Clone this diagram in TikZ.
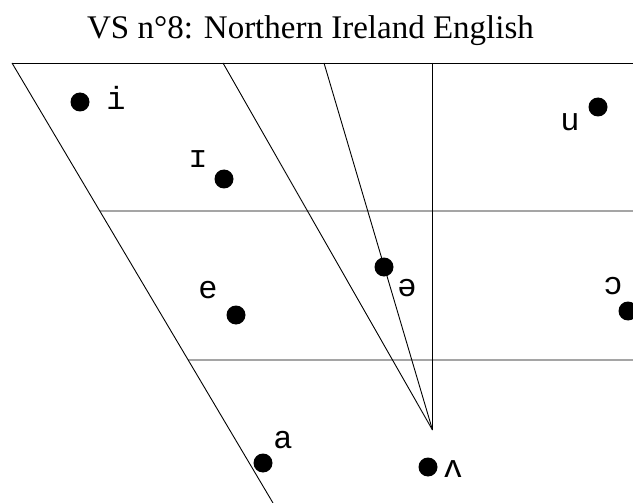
\documentclass[tikz,border=0pt]{standalone}
\usepackage{fontspec}
\setmainfont{Liberation Serif}
\newfontfamily\ipafont{Liberation Mono}
\usetikzlibrary{calc}
\begin{document}
\begin{tikzpicture}[x=1pt,y=-1pt,line width=0.9pt,
  dot/.style={circle,fill,inner sep=0pt,minimum size=19pt},
  vlab/.style={font=\ipafont\fontsize{32}{32}\selectfont,inner sep=0pt}]
\useasboundingbox (0,0) rectangle (633,503);
\node[font=\fontsize{33}{33}\selectfont,anchor=base] (title) at (310.5,39) {VS n°8: Northern Ireland English};
% chart grid
\coordinate (tl) at (12,63);\coordinate (tr) at (633,63);
\coordinate (bl) at (273,503);\coordinate (apex) at (432.5,430);
\draw (tl)--(tr);
\draw (tl)--(bl);
\draw ($(tl)!0.3364!(bl)$)--(633,211);
\draw ($(tl)!0.675!(bl)$)--(633,360);
\draw (223,63)--(apex);
\draw (324,63)--(apex);
\draw (432.5,63)--(apex);
% vowels
\node[dot] (i) at (80,102) {};     \node[vlab] (i-l) at (116,98) {i};
\node[dot] (ic) at (224,179) {};   \node[vlab] (ic-l) at (198,159) {ɪ};
\node[dot] (u) at (598,107) {};    \node[vlab] (u-l) at (570,122) {u};
\node[dot] (e) at (236,315) {};    \node[vlab] (e-l) at (208,290) {e};
\node[dot] (schwa) at (384,267) {};\node[vlab] (schwa-l) at (407,288) {ə};
\node[dot] (oc) at (628,311) {};   \node[vlab] (oc-l) at (613,286) {ɔ};
\node[dot] (a) at (263,463) {};    \node[vlab] (a-l) at (283,440) {a};
\node[dot] (vu) at (428,467) {};   \node[vlab] (vu-l) at (453,469) {ʌ};
\end{tikzpicture}
\end{document}
